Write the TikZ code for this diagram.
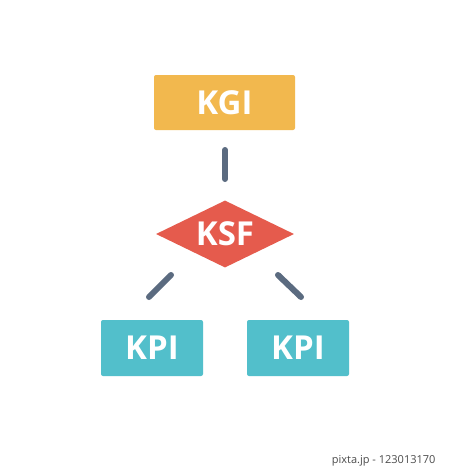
\documentclass[tikz,border=0pt]{standalone}
\usepackage{fontspec}
\setmainfont{Open Sans}
\usetikzlibrary{shapes.geometric}
\definecolor{kgicol}{HTML}{F2B84E}
\definecolor{ksfcol}{HTML}{E55B4D}
\definecolor{kpicol}{HTML}{52BFCB}
\definecolor{linkcol}{HTML}{5B6B80}
\tikzset{
  box/.style={rounded corners=2pt, minimum width=141pt, minimum height=55pt, inner sep=0pt,
              text=white, font=\fontsize{33}{33}\selectfont\bfseries},
  link/.style={linkcol, line width=6pt, line cap=round}
}
\begin{document}
\begin{tikzpicture}[x=1pt,y=-1pt]
  \useasboundingbox[fill=white] (0,0) rectangle (450,469);

  \node[box, fill=kgicol] (kgi) at (224.5,102.5) {KGI};
  \node[diamond, fill=ksfcol, minimum width=138pt, minimum height=67pt, inner sep=0pt, aspect=2.06,
        text=white, font=\fontsize{33}{33}\selectfont\bfseries] (ksf) at (225,234) {KSF};
  \node[box, fill=kpicol, minimum width=102pt, minimum height=56pt] (kpil) at (152,348) {KPI};
  \node[box, fill=kpicol, minimum width=102pt, minimum height=56pt] (kpir) at (298,348) {KPI};

  \coordinate (kgitail) at (225,150);
  \coordinate (ksfhead) at (225,179);
  \coordinate (ksfl) at (171,275);
  \coordinate (kpilhead) at (149,297);
  \coordinate (ksfr) at (278,275);
  \coordinate (kpirhead) at (301,297);
  \draw[link] (kgitail) -- (ksfhead);
  \draw[link] (ksfl) -- (kpilhead);
  \draw[link] (ksfr) -- (kpirhead);

  \node[anchor=east, text=black!70, font=\fontsize{11}{11}\selectfont] (credit) at (439,461) {pixta.jp - 123013170};
\end{tikzpicture}
\end{document}
